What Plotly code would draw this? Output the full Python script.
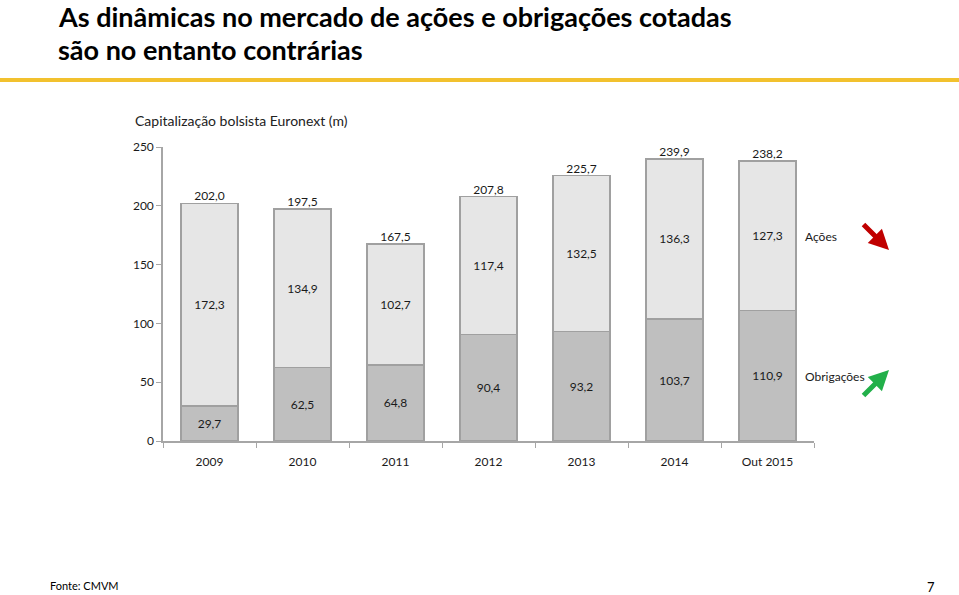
import plotly.graph_objects as go

categories = ["2009", "2010", "2011", "2012", "2013", "2014", "Out 2015"]
obrigacoes = [29.7, 62.5, 64.8, 90.4, 93.2, 103.7, 110.9]
acoes = [172.3, 134.9, 102.7, 117.4, 132.5, 136.3, 127.3]
totais = [202.0, 197.5, 167.5, 207.8, 225.7, 239.9, 238.2]
y_ticks = [0, 50, 100, 150, 200, 250]

def fmt(v):
    return f"{v:.1f}".replace(".", ",")

FONT = "Lato"
W, H = 959, 595
# plot area in page pixels
PX0, PX1, PY0, PY1 = 163, 814, 147, 441
L, R, T, B = PX0, W - PX1, PY0, H - PY1

fig = go.Figure()
fig.add_trace(go.Bar(
    x=categories, y=obrigacoes, name="Obrigações",
    marker=dict(color="#bfbfbf", line=dict(color="#a0a0a0", width=1.5)),
    text=[fmt(v) for v in obrigacoes], textposition="inside",
    insidetextanchor="middle", textangle=0, constraintext="none",
    textfont=dict(family=FONT, size=12, color="#1a1a1a"),
))
fig.add_trace(go.Bar(
    x=categories, y=acoes, name="Ações",
    marker=dict(color="#e6e6e6", line=dict(color="#a0a0a0", width=1.5)),
    text=[fmt(v) for v in acoes], textposition="inside",
    insidetextanchor="middle", textangle=0, constraintext="none",
    textfont=dict(family=FONT, size=12, color="#1a1a1a"),
))
fig.add_trace(go.Scatter(
    x=categories, y=totais, mode="text",
    text=[fmt(v) for v in totais], textposition="top center",
    textfont=dict(family=FONT, size=12, color="#1a1a1a"),
    hoverinfo="skip", cliponaxis=False,
))

def px_x(px):
    return (px - PX0) / (PX1 - PX0)

def px_y(py):
    return (PY1 - py) / (PY1 - PY0)

annotations = [
    dict(text="<b>As dinâmicas no mercado de ações e obrigações cotadas</b>",
         xref="paper", yref="paper", x=px_x(57), y=px_y(16.5), xanchor="left", yanchor="middle",
         showarrow=False, borderpad=0, font=dict(family=FONT, size=27, color="#000000")),
    dict(text="<b>são no entanto contrárias</b>",
         xref="paper", yref="paper", x=px_x(57), y=px_y(49), xanchor="left", yanchor="middle",
         showarrow=False, borderpad=0, font=dict(family=FONT, size=27, color="#000000")),
    dict(text="Capitalização bolsista Euronext (m)", xref="paper", yref="paper",
         x=px_x(133), y=px_y(121), xanchor="left", yanchor="middle", showarrow=False,
         font=dict(family=FONT, size=14, color="#222222")),
    dict(text="Ações", xref="paper", yref="paper", x=px_x(803), y=px_y(236),
         xanchor="left", yanchor="middle", showarrow=False,
         font=dict(family=FONT, size=12, color="#1a1a1a")),
    dict(text="Obrigações", xref="paper", yref="paper", x=px_x(803), y=px_y(376),
         xanchor="left", yanchor="middle", showarrow=False,
         font=dict(family=FONT, size=12, color="#1a1a1a")),
    dict(text="Fonte: CMVM", xref="paper", yref="paper", x=px_x(48), y=px_y(585),
         xanchor="left", yanchor="middle", showarrow=False,
         font=dict(family=FONT, size=11, color="#000000")),
    dict(text="7", xref="paper", yref="paper", x=px_x(937), y=px_y(587),
         xanchor="right", yanchor="middle", showarrow=False,
         font=dict(family=FONT, size=13, color="#000000")),
    dict(text="", xref="paper", yref="paper", x=px_x(889), y=px_y(250),
         ax=-27, ay=-27, showarrow=True, arrowhead=2, arrowsize=0.8, arrowwidth=5,
         arrowcolor="#c00000"),
    dict(text="", xref="paper", yref="paper", x=px_x(889), y=px_y(370),
         ax=-27, ay=27, showarrow=True, arrowhead=2, arrowsize=0.8, arrowwidth=5,
         arrowcolor="#22b04a"),
]

fig.update_layout(
    width=W, height=H, autosize=False,
    margin=dict(l=L, r=R, t=T, b=B),
    barmode="stack", bargap=0.385,
    showlegend=False,
    plot_bgcolor="white", paper_bgcolor="white",
    font=dict(family=FONT, size=12, color="#1a1a1a"),
    annotations=annotations,
    shapes=[dict(type="line", xref="paper", yref="paper", x0=px_x(0), x1=px_x(959),
                 y0=px_y(80), y1=px_y(80), line=dict(color="#f2c12e", width=4))],
    xaxis=dict(type="category", showgrid=False, showline=True, linecolor="#a6a6a6",
               linewidth=1.5, ticks="outside", tickson="boundaries", ticklen=5,
               tickcolor="#a6a6a6", ticklabelstandoff=9,
               tickfont=dict(family=FONT, size=12, color="#1a1a1a")),
    yaxis=dict(range=[0, 250], tickvals=y_ticks, showgrid=False, showline=True,
               linecolor="#a6a6a6", linewidth=1.5, ticks="outside", ticklen=5,
               tickcolor="#a6a6a6", zeroline=False,
               tickfont=dict(family=FONT, size=12, color="#1a1a1a")),
)

fig.write_html("out.html", config={"displayModeBar": False},
               post_script="document.body.style.margin='0px';document.body.style.overflow='hidden';")
